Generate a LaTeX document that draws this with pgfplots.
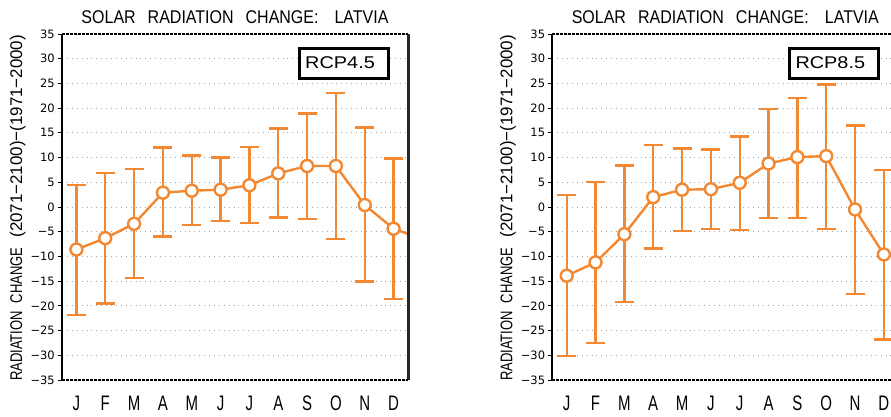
\documentclass[border=0pt]{standalone}
\usepackage{pgfplots}
\pgfplotsset{compat=1.18}
\usepackage{pgfplotstable}
\usepackage{graphicx}
\usepackage{fontspec}
\setmainfont{Liberation Sans}
\newfontfamily\numfont{DejaVu Sans}

\definecolor{rcporange}{RGB}{242,137,50}

% monthly ensemble mean change with lower/upper range
\pgfplotstableread{
m mean lo hi
1 -8.6 -21.9 4.5
2 -6.3 -19.5 6.9
3 -3.4 -14.4 7.7
4 2.9 -6.0 12.0
5 3.3 -3.6 10.4
6 3.5 -2.8 10.0
7 4.4 -3.2 12.2
8 6.8 -2.1 15.9
9 8.3 -2.4 18.9
10 8.3 -6.5 23.1
11 0.4 -15.1 16.1
12 -4.4 -18.6 9.8
}\rcpfour

\pgfplotstableread{
m mean lo hi
1 -13.9 -30.2 2.4
2 -11.2 -27.5 5.1
3 -5.5 -19.2 8.4
4 2.0 -8.4 12.5
5 3.5 -4.8 11.8
6 3.6 -4.4 11.6
7 4.9 -4.6 14.3
8 8.8 -2.2 19.8
9 10.1 -2.2 22.1
10 10.3 -4.4 24.8
11 -0.5 -17.6 16.5
12 -9.6 -26.8 7.5
}\rcpeight

\newcommand{\mon}[1]{\scalebox{1}[1.4]{\fontsize{15}{16}\selectfont #1}}
\newcommand{\charttitle}{\scalebox{1}[1.15]{\fontsize{16}{18}\selectfont SOLAR\hspace{12pt}RADIATION\hspace{12pt}CHANGE:\hspace{16pt}LATVIA}}
\newcommand{\radlabel}{\scalebox{1}[1.3]{\fontsize{13}{14}\selectfont RADIATION\hspace{8pt}CHANGE\hspace{10pt}\scalebox{1.3}[1]{(2071−2100)−(1971−2000)}}}
\newcommand{\rcp}[1]{\scalebox{1.17}[1]{\fontsize{17}{18}\selectfont #1}}

\pgfplotsset{
  radstyle/.style={
    scale only axis, width=346pt, height=346pt,
    anchor=south west,
    xmin=0.5, xmax=12.5, ymin=-35, ymax=35,
    clip mode=individual,
    axis line style={draw=none},
    xtick={1,2,3,4,5,6,7,8,9,10,11,12},
    xticklabels={\mon{J},\mon{F},\mon{M},\mon{A},\mon{M},\mon{J},\mon{J},\mon{A},\mon{S},\mon{O},\mon{N},\mon{D}},
    xtick style={draw=none},
    xticklabel style={anchor=base, yshift=-26pt},
    ytick={-35,-30,-25,-20,-15,-10,-5,0,5,10,15,20,25,30,35},
    yticklabels={−35,−30,−25,−20,−15,−10,−5,0,5,10,15,20,25,30,35},
    yticklabel style={font=\numfont\fontsize{11.5}{12}\selectfont, anchor=east, inner sep=0pt, xshift=-3pt},
    ytick pos=left, tick align=outside, major tick length=4pt,
    ytick style={black, line width=1pt},
    ymajorgrids,
    grid style={black!35, line width=0.9pt, dash pattern=on 0.9pt off 4pt},
  },
  rcpline/.style={
    rcporange, line width=2.4pt,
    mark=*, mark size=6pt,
    mark options={fill=white, draw=rcporange, line width=2.4pt},
    error bars/.cd, y dir=both, y explicit,
    error mark=|,
    error mark options={rcporange, line width=2.4pt, mark size=9.5pt},
    error bar style={rcporange, line width=2.4pt},
  },
}

\begin{document}
\begin{tikzpicture}
\useasboundingbox (0,0) rectangle (891pt,416pt);
\clip (0,0) rectangle (891pt,416pt);

% ---- RCP4.5 ----
\begin{axis}[radstyle, at={(62pt,36pt)}]
  \addplot[rcporange, line width=2.4pt, forget plot] coordinates {(12,-4.4) (13,-6.5)};
  \addplot[rcpline] table[x=m, y=mean,
      y error plus expr=\thisrow{hi}-\thisrow{mean},
      y error minus expr=\thisrow{mean}-\thisrow{lo}] {\rcpfour};
  \draw[black, line width=2pt] (rel axis cs:0,0) -- (rel axis cs:0,1);
  \draw[black!85, line width=3pt] (rel axis cs:1,0) -- (rel axis cs:1,1);
  \draw[black, line width=1.3pt, dash pattern=on 3pt off 1pt] (rel axis cs:0,1) -- (rel axis cs:1,1);
  \draw[black, line width=2pt, dash pattern=on 3pt off 1pt] (rel axis cs:0,0) -- (rel axis cs:1,0);
\end{axis}

% ---- RCP8.5 ----
\begin{axis}[radstyle, at={(552.3pt,36pt)}]
  \addplot[rcpline] table[x=m, y=mean,
      y error plus expr=\thisrow{hi}-\thisrow{mean},
      y error minus expr=\thisrow{mean}-\thisrow{lo}] {\rcpeight};
  \draw[black, line width=2pt] (rel axis cs:0,0) -- (rel axis cs:0,1);
  \draw[black!85, line width=3pt] (rel axis cs:1,0) -- (rel axis cs:1,1);
  \draw[black, line width=1.3pt, dash pattern=on 3pt off 1pt] (rel axis cs:0,1) -- (rel axis cs:1,1);
  \draw[black, line width=2pt, dash pattern=on 3pt off 1pt] (rel axis cs:0,0) -- (rel axis cs:1,0);
\end{axis}

% titles
\node[anchor=base, inner sep=0pt] at (235pt,392pt) {\charttitle};
\node[anchor=base, inner sep=0pt] at (725.3pt,392pt) {\charttitle};

% y axis labels
\node[rotate=90, anchor=base, inner sep=0pt] at (22pt,208pt) {\radlabel};
\node[rotate=90, anchor=base, inner sep=0pt] at (512.3pt,208pt) {\radlabel};

% scenario boxes
\draw[black, line width=3pt, fill=white] (299.5pt,367.5pt) rectangle (388.5pt,337.5pt);
\node[anchor=base west, inner sep=0pt] at (305pt,347.7pt) {\rcp{RCP4.5}};
\draw[black, line width=3pt, fill=white] (789.8pt,367.5pt) rectangle (878.8pt,337.5pt);
\node[anchor=base west, inner sep=0pt] at (795.3pt,347.7pt) {\rcp{RCP8.5}};
\end{tikzpicture}
\end{document}
